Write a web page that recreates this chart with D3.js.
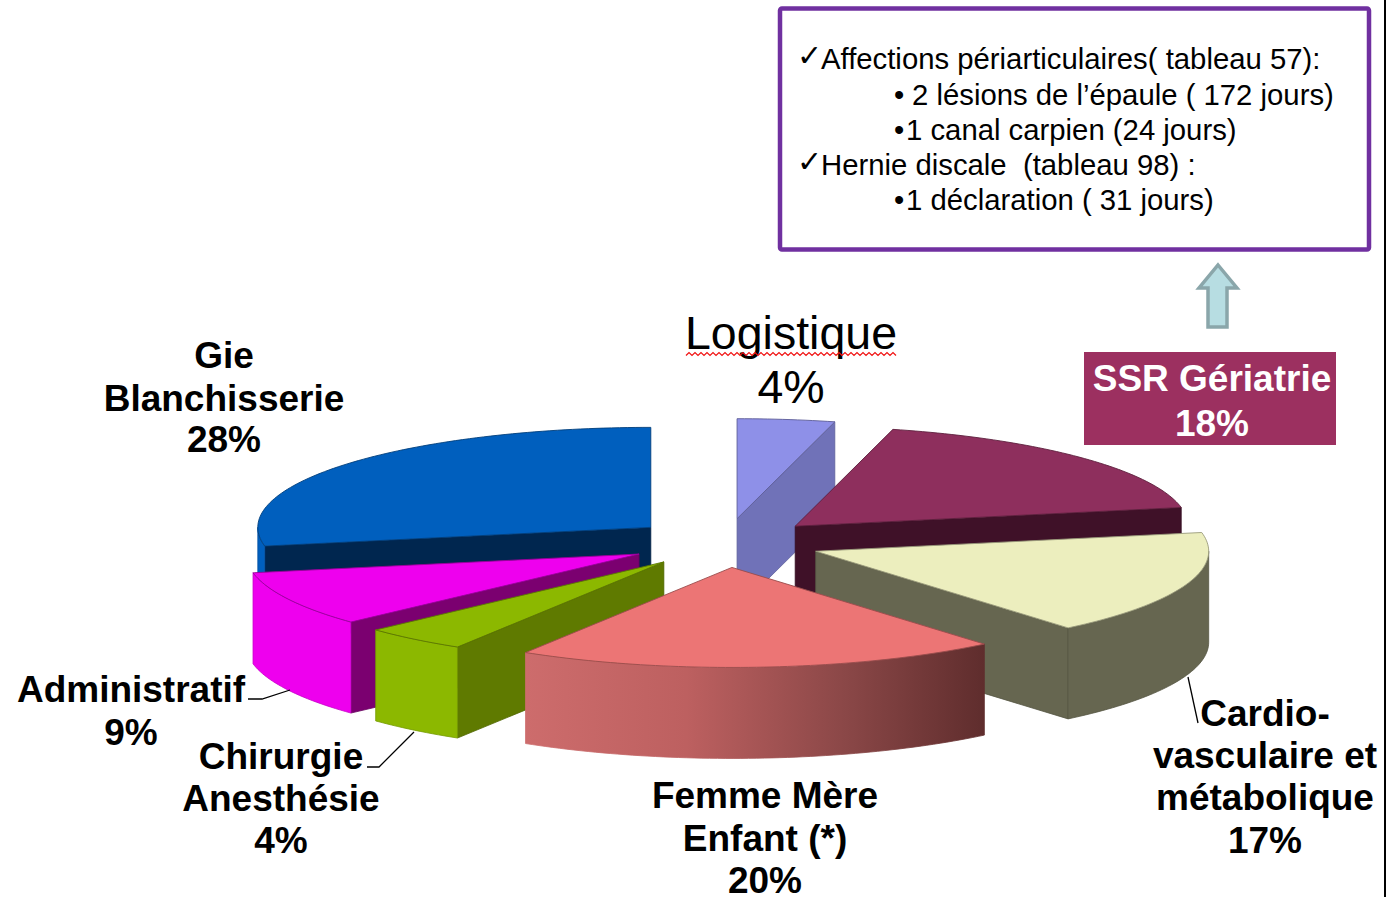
<!DOCTYPE html>
<html lang="fr">
<head>
<meta charset="utf-8">
<title>Répartition par secteur</title>
<script src="https://cdn.jsdelivr.net/npm/d3@7"></script>
<style>
  html, body { margin: 0; padding: 0; background: #fff; overflow: hidden; }
  svg { display: block; }
  text { font-family: "Liberation Sans", Arial, sans-serif; white-space: pre; }
</style>
</head>
<body>
<div id="chart"></div>
<script>
// clockwise from 12 o'clock; shares, labels are the rounded ones
const categories = ['Logistique', 'SSR Gériatrie', 'Cardio-vasculaire et métabolique', 'Femme Mère Enfant (*)', 'Chirurgie Anesthésie', 'Administratif', 'Gie Blanchisserie'];
const values = [4, 18, 16.9, 19.9, 4.3, 8.9, 28];

const topColors = ['#8e90e8', '#8e2f5d', '#eceebe', '#ec7575', '#8cb800', '#ee00ee', '#005fbe'];
const wallColors = ['#7072b8', '#3f1128', '#666650', '#c46464', '#5f7a00', '#7b0070', '#00264f'];
const rimColors = ['#7072b8', '#3f1128', '#666650', 'url(#femme-rim)', '#8cb800', '#ee00ee', '#005fbe'];
const paintOrder = ['Logistique', 'Gie Blanchisserie', 'SSR Gériatrie', 'Administratif', 'Cardio-vasculaire et métabolique', 'Chirurgie Anesthésie', 'Femme Mère Enfant (*)'];

const noteLines = [
  'Affections périarticulaires( tableau 57):',
  '2 lésions de l’épaule ( 172 jours)',
  '1 canal carpien (24 jours)',
  'Hernie discale  (tableau 98) :',
  '1 déclaration ( 31 jours)'
];

const W = 1389, H = 897;
const cx = 725, cy = 543;   // pie centre
const rx = 393, ry = 100;   // ellipse of the top face
const explode = 0.245;
const depth = 91;

const svg = d3.select('#chart').append('svg').attr('width', W).attr('height', H);
const defs = svg.append('defs');

const pie = d3.pie().sort(null).value(d => d.value);
const arcs = pie(categories.map((name, i) => ({ name, value: values[i], i })));

// radius as fraction of the ellipse, angle clockwise from top
const px = (r, a) => r * rx * Math.sin(a);
const py = (r, a) => -r * ry * Math.cos(a);
const line = d3.line();

function rimPoints(a0, a1, ox, oy, dy) {
  const n = Math.max(2, Math.ceil((a1 - a0) / 0.02));
  return d3.range(n + 1).map(k => {
    const a = a0 + (a1 - a0) * k / n;
    return [ox + px(1, a), oy + py(1, a) + dy];
  });
}

const slices = arcs.map(d => {
  const mid = (d.startAngle + d.endAngle) / 2;
  return {
    ...d,
    name: d.data.name,
    i: d.data.i,
    ox: cx + px(explode, mid),
    oy: cy + py(explode, mid)
  };
});

// gradient on the front of the big pink slice
const femme = slices.find(s => s.name.startsWith('Femme'));
const femmeGrad = defs.append('linearGradient')
  .attr('id', 'femme-rim')
  .attr('gradientUnits', 'userSpaceOnUse')
  .attr('x1', femme.ox + px(1, femme.endAngle)).attr('x2', femme.ox + px(1, femme.startAngle))
  .attr('y1', 0).attr('y2', 0);
[[0, '#cd6c6c'], [0.35, '#bd6060'], [0.7, '#8a4747'], [1, '#5f2d2d']].forEach(s => {
  femmeGrad.append('stop').attr('offset', s[0]).attr('stop-color', s[1]);
});

const pieG = svg.append('g');

function wall(g, s, a, color) {
  const rx0 = s.ox + px(1, a), ry0 = s.oy + py(1, a);
  g.append('path')
    .attr('d', line([[s.ox, s.oy], [rx0, ry0], [rx0, ry0 + depth], [s.ox, s.oy + depth]]) + 'Z')
    .attr('fill', color)
    .attr('stroke', d3.color(color).darker(0.5))
    .attr('stroke-width', 0.8);
}

paintOrder.forEach(name => {
  const s = slices.find(v => v.name === name);
  const g = pieG.append('g').attr('class', 'slice');
  const wallColor = wallColors[s.i];

  // only the faces turned towards the viewer
  if (Math.sin(s.startAngle) < -1e-6) wall(g, s, s.startAngle, wallColor);
  if (Math.sin(s.endAngle) > 1e-6) wall(g, s, s.endAngle, wallColor);

  const r0 = Math.max(s.startAngle, Math.PI / 2);
  const r1 = Math.min(s.endAngle, Math.PI * 3 / 2);
  if (r1 > r0) {
    const upper = rimPoints(r0, r1, s.ox, s.oy, 0);
    const lower = rimPoints(r0, r1, s.ox, s.oy, depth).reverse();
    g.append('path')
      .attr('d', line(upper.concat(lower)) + 'Z')
      .attr('fill', rimColors[s.i])
      .attr('stroke', s.name.startsWith('Femme') ? 'url(#femme-rim)' : d3.color(rimColors[s.i]).darker(0.5))
      .attr('stroke-width', 0.8);
  }

  const top = [[s.ox, s.oy]].concat(rimPoints(s.startAngle, s.endAngle, s.ox, s.oy, 0));
  g.append('path')
    .attr('d', line(top) + 'Z')
    .attr('fill', topColors[s.i])
    .attr('stroke', d3.color(topColors[s.i]).darker(1.2))
    .attr('stroke-width', 0.9);
});

// leader lines
[
  [[248, 699], [262, 699], [290, 690]],
  [[367, 767], [379, 767], [414, 732]],
  [[1198, 723], [1188, 677]]
].forEach(pts => {
  svg.append('path').attr('d', line(pts)).attr('fill', 'none').attr('stroke', '#000').attr('stroke-width', 1.3);
});

// data labels
function label(lines, x, baselines, opts = {}) {
  lines.forEach((t, k) => {
    svg.append('text')
      .attr('x', x).attr('y', baselines[k])
      .attr('text-anchor', 'middle')
      .attr('font-size', opts.size || 37)
      .attr('font-weight', opts.weight || 700)
      .attr('fill', opts.fill || '#000')
      .text(t);
  });
}

label(['Gie', 'Blanchisserie', '28%'], 224, [368, 411, 452]);
label(['Administratif', '9%'], 131, [702, 745]);
label(['Chirurgie', 'Anesthésie', '4%'], 281, [769, 811, 853]);
label(['Femme Mère', 'Enfant (*)', '20%'], 765, [808, 851, 893]);
label(['Cardio-', 'vasculaire et', 'métabolique', '17%'], 1265, [726, 768, 810, 853]);

// Logistique, regular weight, with the spell-check squiggle
label(['Logistique', '4%'], 791, [349, 403], { size: 46.5, weight: 400 });
svg.append('path')
  .attr('d', line(d3.range(0, 71).map(k => [686 + k * 3, 354 + (k % 2 ? -1.5 : 1.5)])))
  .attr('fill', 'none').attr('stroke', '#f01010').attr('stroke-width', 1.2);

// SSR tag
svg.append('rect').attr('x', 1084).attr('y', 352).attr('width', 252).attr('height', 93).attr('fill', '#9c3060');
label(['SSR Gériatrie', '18%'], 1212, [391, 436], { fill: '#fff' });

// arrow up to the note
svg.append('path')
  .attr('d', line([[1218, 265], [1237, 288], [1227, 288], [1227, 327], [1208, 327], [1208, 288], [1199, 288]]) + 'Z')
  .attr('fill', '#b7dde2').attr('stroke', '#8aa6aa').attr('stroke-width', 3.5);

// note box
svg.append('rect').attr('x', 780).attr('y', 8.5).attr('width', 589).attr('height', 241)
  .attr('rx', 2).attr('fill', '#fff').attr('stroke', '#7030a0').attr('stroke-width', 4.5);

const noteBase = [69, 105, 140, 175, 210];
const noteX = [821, 912, 906, 821, 906];
const noteMark = ['✓', '•', '•', '✓', '•'];
const markX = [797, 894, 894, 797, 894];
noteLines.forEach((t, k) => {
  svg.append('text').attr('x', noteX[k]).attr('y', noteBase[k]).attr('font-size', 29.3).attr('fill', '#000').text(t);
  svg.append('text').attr('x', markX[k]).attr('y', noteBase[k] - (k % 3 === 0 ? 3 : 0)).attr('font-size', k % 3 === 0 ? 30 : 29.3)
    .style('font-family', k % 3 === 0 ? '"DejaVu Sans"' : null).attr('fill', '#000').text(noteMark[k]);
});

// page edge
svg.append('line').attr('x1', 1385).attr('x2', 1385).attr('y1', 0).attr('y2', H).attr('stroke', '#000').attr('stroke-width', 2);
</script>
</body>
</html>
